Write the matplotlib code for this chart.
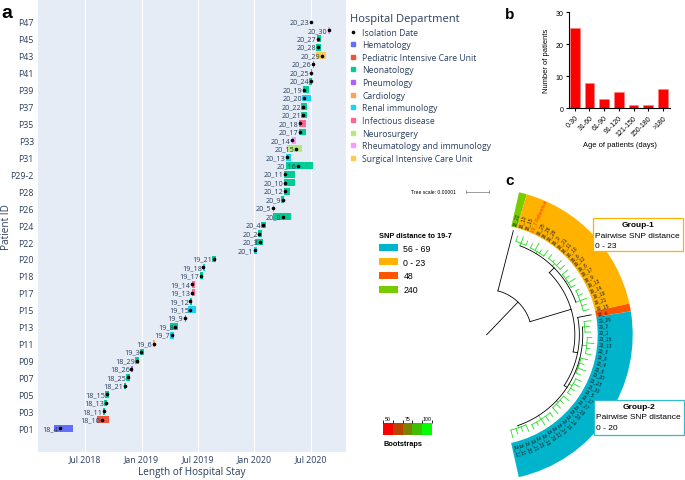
import numpy as np
import pandas as pd
import matplotlib
matplotlib.use('Agg')
import matplotlib.pyplot as plt
import matplotlib.dates as mdates
from matplotlib.patches import Wedge, Rectangle, Patch
from matplotlib.lines import Line2D
from matplotlib.colors import ListedColormap, BoundaryNorm
import matplotlib.cm as cm

# ---------------- data: panel a (hospital stays) ----------------
patient_ids = ['P01', 'P02', 'P03', 'P04', 'P05', 'P06', 'P07', 'P08', 'P09', 'P10',
               'P11', 'P12', 'P13', 'P14', 'P15', 'P16', 'P17', 'P17-2', 'P18', 'P19',
               'P20', 'P21', 'P22', 'P23', 'P24', 'P25', 'P26', 'P27', 'P28', 'P29-1',
               'P29-2', 'P30', 'P31', 'P32', 'P33', 'P34', 'P35', 'P36', 'P37', 'P38',
               'P39', 'P40', 'P41', 'P42', 'P43', 'P44', 'P45', 'P46', 'P47']
isolates = ['18_4', '18_10', '18_11', '18_13', '18_15', '18_21', '18_25', '18_26', '18_29', '19_3',
            '19_6', '19_7', '19_8', '19_9', '19_15', '19_12', '19_13', '19_14', '19_17', '19_18',
            '19_21', '20_1', '20_3', '20_2', '20_4', '20_8', '20_5', '20_9', '20_12', '20_10',
            '20_11', '20_16', '20_13', '20_15', '20_14', '20_17', '20_18', '20_21', '20_22', '20_20',
            '20_19', '20_24', '20_25', '20_26', '20_29', '20_28', '20_27', '20_30', '20_23']
departments = ['Hematology', 'Pediatric Intensive Care Unit', 'Neonatology', 'Neonatology', 'Neonatology',
               'Neonatology', 'Neonatology', 'Pneumology', 'Neonatology', 'Neonatology',
               'Cardiology', 'Renal immunology', 'Neonatology', 'Neonatology', 'Renal immunology',
               'Neonatology', 'Infectious disease', 'Infectious disease', 'Neonatology', 'Renal immunology',
               'Neonatology', 'Renal immunology', 'Neonatology', 'Neonatology', 'Neonatology',
               'Neonatology', 'Rheumatology and immunology', 'Neonatology', 'Neonatology', 'Neonatology',
               'Neonatology', 'Neonatology', 'Renal immunology', 'Neurosurgery', 'Rheumatology and immunology',
               'Neonatology', 'Infectious disease', 'Neonatology', 'Neonatology', 'Renal immunology',
               'Neonatology', 'Neonatology', 'Infectious disease', 'Infectious disease', 'Surgical Intensive Care Unit',
               'Neonatology', 'Neonatology', 'Rheumatology and immunology', 'Neonatology']
stay_start = ['2018-03-23', '2018-08-10', '2018-08-30', '2018-09-03', '2018-09-06', '2018-11-04', '2018-11-13',
              '2018-11-27', '2018-12-11', '2018-12-26', '2019-02-06', '2019-04-02', '2019-04-03', '2019-05-20',
              '2019-06-01', '2019-06-05', '2019-06-12', '2019-06-12', '2019-07-08', '2019-07-17', '2019-08-16',
              '2019-12-31', '2020-01-02', '2020-01-11', '2020-01-22', '2020-02-29', '2020-02-29', '2020-03-26',
              '2020-04-05', '2020-04-05', '2020-04-05', '2020-04-12', '2020-04-12', '2020-04-14', '2020-04-30',
              '2020-05-24', '2020-05-24', '2020-05-29', '2020-05-31', '2020-06-03', '2020-06-05', '2020-06-26',
              '2020-07-01', '2020-07-07', '2020-07-17', '2020-07-18', '2020-07-21', '2020-08-26', '2020-07-03']
stay_end = ['2018-05-25', '2018-09-17', '2018-09-06', '2018-09-12', '2018-09-16', '2018-11-13', '2018-11-23',
            '2018-12-05', '2018-12-23', '2019-01-09', '2019-02-14', '2019-04-17', '2019-04-29', '2019-05-25',
            '2019-06-25', '2019-06-12', '2019-06-22', '2019-06-22', '2019-07-19', '2019-07-25', '2019-08-28',
            '2020-01-09', '2020-01-27', '2020-01-24', '2020-02-08', '2020-04-29', '2020-03-04', '2020-04-06',
            '2020-04-24', '2020-05-10', '2020-05-10', '2020-07-07', '2020-04-27', '2020-06-02', '2020-05-13',
            '2020-06-16', '2020-06-17', '2020-06-18', '2020-06-18', '2020-07-01', '2020-06-25', '2020-07-05',
            '2020-07-06', '2020-07-12', '2020-08-18', '2020-08-02', '2020-08-03', '2020-09-01', '2020-07-03']
isolation_date = ['2018-04-12', '2018-08-25', '2018-09-03', '2018-09-07', '2018-09-11', '2018-11-08', '2018-11-18',
                  '2018-11-29', '2018-12-17', '2018-12-31', '2019-02-09', '2019-04-09', '2019-04-20', '2019-05-21',
                  '2019-06-08', '2019-06-08', '2019-06-14', '2019-06-14', '2019-07-11', '2019-07-20', '2019-08-22',
                  '2020-01-02', '2020-01-19', '2020-01-17', '2020-01-28', '2020-04-01', '2020-03-01', '2020-04-02',
                  '2020-04-08', '2020-04-08', '2020-04-08', '2020-05-20', '2020-04-14', '2020-05-15', '2020-05-02',
                  '2020-05-26', '2020-05-27', '2020-06-06', '2020-06-06', '2020-06-08', '2020-06-09', '2020-07-01',
                  '2020-07-03', '2020-07-08', '2020-08-06', '2020-07-24', '2020-07-23', '2020-08-28', '2020-07-03']

dept_names = ['Hematology', 'Pediatric Intensive Care Unit', 'Neonatology', 'Pneumology', 'Cardiology',
              'Renal immunology', 'Infectious disease', 'Neurosurgery', 'Rheumatology and immunology',
              'Surgical Intensive Care Unit']
dept_colors = ['#636EFA', '#EF553B', '#00CC96', '#AB63FA', '#FFA15A',
               '#19D3F3', '#FF6692', '#B6E880', '#FF97FF', '#FECB52']

date_ticks = ['2018-07-01', '2019-01-01', '2019-07-01', '2020-01-01', '2020-07-01']
date_tick_labels = ['Jul 2018', 'Jan 2019', 'Jul 2019', 'Jan 2020', 'Jul 2020']

# ---------------- data: panel b ----------------
age_groups = ['0-30', '31-60', '61-90', '91-120', '121-150', '150-180', '>180']
n_patients = [25, 8, 3, 5, 1, 1, 6]

# ---------------- data: panel c (tree) ----------------
# branch lengths in units of the tree scale bar (0.00001)
tree = ('', 2.0, [
    ('18_22', 2.75),
    ('', 1.9, [
        ('', 0.3, [
            ('', 0.12, [('18_13', 0.25), ('18_15', 0.3), ('19_7', 0.2)]),
            ('', 0.10, [('18_25', 0.2), ('18_26', 0.35), ('18_29', 0.15), ('19_3', 0.3)]),
            ('', 0.15, [('18_21', 0.2), ('18_11', 0.1), ('18_10', 0.3), ('19_6', 0.25)]),
            ('', 0.08, [('19_12', 0.3), ('19_8', 0.2), ('19_17', 0.35), ('19_9', 0.2)]),
            ('', 0.20, [('19_13', 0.15), ('19_14', 0.2), ('19_18', 0.3), ('19_21', 0.2), ('19_15', 0.25)]),
        ]),
        ('', 0.2, [
            ('18_4', 0.6),
            ('', 0.15, [
                ('', 0.10, [('20_26', 0.3), ('20_2', 0.2), ('20_1', 0.25)]),
                ('', 0.20, [('20_15', 0.2), ('20_13', 0.3), ('20_3', 0.15), ('20_8', 0.25)]),
                ('', 0.05, [('20_4', 0.3), ('20_9', 0.2), ('20_30', 0.35), ('20_23', 0.2)]),
                ('', 0.15, [('20_10', 0.25), ('20_5', 0.3), ('20_17', 0.2), ('20_27', 0.15)]),
                ('', 0.10, [('20_19', 0.3), ('20_28', 0.2), ('20_14', 0.25), ('20_16', 0.35)]),
                ('', 0.20, [('20_24', 0.2), ('20_22', 0.25), ('20_29', 0.3), ('20_18', 0.15), ('20_25', 0.2)]),
                ('', 0.10, [('20_21', 0.3), ('20_20', 0.2), ('20_11', 0.25), ('20_12', 0.35)]),
            ]),
        ]),
    ]),
])
reference_isolate = '19_7'
snp_classes = ['56 - 69', '0 - 23', '48', '240']
snp_colors = ['#00B4CC', '#FFB300', '#FF5500', '#77CC00']
ring_order = ['240', '0 - 23', '48', '56 - 69']   # classes along the ring, top to bottom
ring_counts = [1, 20, 1, 28]
bootstrap_colors = ['#FF0000', '#B84400', '#808000', '#3FBF00', '#00FF00']
bootstrap_ticks = [50, 75, 100]

# ---------------- figure ----------------
W, H = 685, 481
fig = plt.figure(figsize=(W / 100, H / 100), dpi=100)
txt_col = '#2a3f5f'
sans = 'Liberation Sans'

# ---- panel a ----
ax = fig.add_axes([38 / W, 1 - 453 / H, 308 / W, 453 / H])
ax.set_facecolor('#E5ECF6')
start = mdates.date2num(pd.to_datetime(stay_start))
end = mdates.date2num(pd.to_datetime(stay_end))
iso = mdates.date2num(pd.to_datetime(isolation_date))
rows = np.arange(len(patient_ids))
cmap_dept = dict(zip(dept_names, dept_colors))
ax.barh(rows, end - start, left=start, height=0.8,
        color=[cmap_dept[d] for d in departments], zorder=2)
ax.plot(iso, rows, 'o', color='black', markersize=1.6, zorder=3)
for r, x, lab in zip(rows, iso, isolates):
    ax.annotate(lab, (x, r), xytext=(-1.2, 0), textcoords='offset points',
                ha='right', va='center', fontsize=5.2, color=txt_col,
                family='Open Sans', zorder=4)
ax.set_yticks(rows[::2])
ax.set_yticklabels(patient_ids[::2])
ax.set_ylim(-2.8, 50.7)
ax.set_xticks(mdates.date2num(pd.to_datetime(date_ticks)))
ax.set_xticklabels(date_tick_labels)
ax.set_xlim(mdates.date2num(pd.Timestamp('2018-01-31')), mdates.date2num(pd.Timestamp('2020-10-23')))
ax.grid(axis='x', color='white', linewidth=0.8, zorder=0)
ax.set_axisbelow(True)
for s in ax.spines.values():
    s.set_visible(False)
ax.tick_params(length=0, labelsize=6.3, labelcolor=txt_col, pad=3)
ax.tick_params(axis='x', pad=1.2)
for t in ax.get_xticklabels() + ax.get_yticklabels():
    t.set_family('Open Sans')
fig.text(7 / W, 1 - 227 / H, 'Patient ID', rotation=90, ha='center', va='center',
         fontsize=7.2, color=txt_col, family='Open Sans')
fig.text(192 / W, 1 - 473 / H, 'Length of Hospital Stay', ha='center', va='center',
         fontsize=7.2, color=txt_col, family='Open Sans')
fig.text(1 / W, 1 - 14 / H, 'a', fontsize=14, fontweight='bold', family=sans, va='center')

handles = [Line2D([], [], marker='o', ls='', color='black', markersize=1.6, label='Isolation Date')]
handles += [Line2D([], [], marker='s', ls='', color=c, markersize=3.2, label=n)
            for n, c in zip(dept_names, dept_colors)]
leg = fig.legend(handles=handles, loc='upper left', bbox_to_anchor=(350 / W, 1 - 14 / H),
                 frameon=False, title='Hospital Department',
                 prop={'family': 'Open Sans', 'size': 6.2},
                 title_fontproperties={'family': 'Open Sans', 'size': 8},
                 handlelength=0.8, handletextpad=0.6, labelspacing=0.42,
                 borderaxespad=0, borderpad=0, alignment='left', labelcolor=txt_col)
leg.get_title().set_color(txt_col)

# ---- panel b ----
axb = fig.add_axes([569 / W, 1 - 109.3 / H, 101 / W, 96 / H])
xb = np.arange(len(age_groups))
axb.bar(xb, n_patients, width=0.65, color='#FF0000', edgecolor='#FF8080', linewidth=0.4)
axb.set_xlim(-0.39, 6.48)
axb.set_ylim(0, 30)
axb.set_yticks([0, 10, 20, 30])
axb.set_xticks(xb)
axb.set_xticklabels(age_groups, rotation=45, ha='right', rotation_mode='anchor')
axb.spines['top'].set_visible(False)
axb.spines['right'].set_visible(False)
for s in ['left', 'bottom']:
    axb.spines[s].set_linewidth(0.8)
axb.tick_params(length=2.5, width=0.8, labelsize=5, pad=1.5)
for t in axb.get_xticklabels() + axb.get_yticklabels():
    t.set_family(sans)
axb.set_ylabel('Number of patients', fontsize=5.4, family=sans, labelpad=4)
axb.set_xlabel('Age of patients (days)', fontsize=5.4, family=sans, labelpad=3)
fig.text(505 / W, 1 - 15 / H, 'b', fontsize=11, fontweight='bold', family=sans, va='center')

# ---- panel c ----
cx, cy = 486.7, 335.7
axc = fig.add_axes([330 / W, 0, 355 / W, 311 / H])
axc.set_xlim(330 - cx, 685 - cx)
axc.set_ylim(-(481 - cy), cy - 170)
axc.set_aspect('equal')
axc.axis('off')


def P(x, y):
    return x - cx, cy - y


px_unit = 22.6
ang_top, ang_bot = 77.2, -77.3
n_tips = sum(ring_counts)
step = (ang_top - ang_bot) / n_tips
r_in, r_out = 111, 146

tip_angle = {}
tip_list = []


def collect(node):
    if len(node) == 2:
        tip_angle[node[0]] = ang_top - (len(tip_list) + 0.5) * step
        tip_list.append(node[0])
    else:
        for ch in node[2]:
            collect(ch)


collect(tree)


def pol(r, a):
    t = np.deg2rad(a)
    return r * np.cos(t), r * np.sin(t)


def draw(node, r0, green):
    r1 = r0 + node[1] * px_unit
    if len(node) == 2:
        a = tip_angle[node[0]]
        col = '#22DD22' if green else 'black'
        x0, y0 = pol(r0, a)
        x1, y1 = pol(r1, a)
        axc.plot([x0, x1], [y0, y1], color=col, lw=0.6, zorder=3)
        x2, y2 = pol(r_in - 1, a)
        axc.plot([x1, x2], [y1, y2], color='#c8c8c8', lw=0.3, ls=':', zorder=2)
        return a
    all_tips = all(len(ch) == 2 for ch in node[2])
    angs = [draw(ch, r1, all_tips) for ch in node[2]]
    a = (angs[0] + angs[-1]) / 2
    col = '#22DD22' if all_tips else 'black'
    x0, y0 = pol(r0, a)
    x1, y1 = pol(r1, a)
    axc.plot([x0, x1], [y0, y1], color=col, lw=0.6, zorder=3)
    arc = np.linspace(angs[-1], angs[0], 40)
    ax_, ay_ = pol(r1, arc)
    axc.plot(ax_, ay_, color=col, lw=0.6, zorder=3)
    return a


draw(tree, 0, False)

# coloured ring
snp_col = dict(zip(snp_classes, snp_colors))
pos = 0
for cls, cnt in zip(ring_order, ring_counts):
    a1 = ang_top - pos * step
    a2 = ang_top - (pos + cnt) * step
    axc.add_patch(Wedge((0, 0), r_out, a2, a1, width=r_out - r_in,
                        facecolor=snp_col[cls], edgecolor='none', zorder=1))
    pos += cnt

# tip labels
for name in tip_list:
    a = tip_angle[name]
    x, y = pol(r_in + 1.5, a)
    lab = name + ' Reference' if name == reference_isolate else name
    col = '#FF3300' if name == reference_isolate else '#1a1a1a'
    axc.text(x, y, lab, rotation=a, rotation_mode='anchor', ha='left', va='center',
             fontsize=3.4, color=col, family=sans, zorder=4)

# SNP legend
snp_handles = [Patch(facecolor=c, edgecolor='none', label=l) for l, c in zip(snp_classes, snp_colors)]
leg2 = axc.legend(handles=snp_handles, loc='upper left', bbox_to_anchor=(379 / W, 1 - 233 / H),
                  bbox_transform=fig.transFigure, frameon=False, title='SNP distance to 19-7',
                  prop={'family': sans, 'size': 6.3},
                  title_fontproperties={'family': sans, 'size': 5.3, 'weight': 'bold'},
                  handlelength=2.2, handleheight=0.9, handletextpad=0.6, labelspacing=0.55,
                  borderpad=0, borderaxespad=0, alignment='left')

# tree scale
axc.text(*P(456, 192.5), 'Tree scale: 0.00001', fontsize=3.6, family=sans, ha='right', va='center')
sx0, sy = P(466, 192.5)
axc.plot([sx0, sx0 + px_unit], [sy, sy], color='#777777', lw=0.5)
axc.plot([sx0, sx0], [sy - 1.2, sy + 1.2], color='#777777', lw=0.5)
axc.plot([sx0 + px_unit, sx0 + px_unit], [sy - 1.2, sy + 1.2], color='#777777', lw=0.5)
axc.text(*P(505, 181), 'c', fontsize=11, fontweight='bold', family=sans, ha='left', va='center')

# group boxes
for (x0, y0, x1, y1), ec, title, rng in [((592.7, 219, 683, 251.7), '#FFB300', 'Group-1', '0 - 23'),
                                          ((594, 401, 684, 435.7), '#33BBCC', 'Group-2', '0 - 20')]:
    bx, by = P(x0, y1)
    axc.add_patch(Rectangle((bx, by), x1 - x0, y1 - y0, facecolor='white',
                            edgecolor=ec, linewidth=0.9, zorder=5))
    axc.text(*P((x0 + x1) / 2, y0 + 6.5), title, fontsize=6, fontweight='bold', family=sans,
             ha='center', va='center', zorder=6)
    axc.text(*P(x0 + 2.5, y0 + 17), 'Pairwise SNP distance', fontsize=6, family=sans,
             ha='left', va='center', zorder=6)
    axc.text(*P(x0 + 2.5, y0 + 27.5), rng, fontsize=6, family=sans,
             ha='left', va='center', zorder=6)

# bootstrap colour bar
cax = fig.add_axes([383.3 / W, 1 - 435.7 / H, 48.4 / W, 11.7 / H])
bounds = np.linspace(43.75, 106.25, 6)
cb = fig.colorbar(cm.ScalarMappable(norm=BoundaryNorm(bounds, 5), cmap=ListedColormap(bootstrap_colors)),
                  cax=cax, orientation='horizontal', ticks=bootstrap_ticks)
cb.outline.set_visible(False)
cax.xaxis.set_ticks_position('top')
cax.tick_params(length=0, labelsize=3.8, pad=1.5)
for t in cax.get_xticklabels():
    t.set_family(sans)
fig.text(383.3 / W, 1 - 445 / H, 'Bootstraps', fontsize=5.3, fontweight='bold', family=sans, va='center')

fig.savefig('out.png', dpi=100)
